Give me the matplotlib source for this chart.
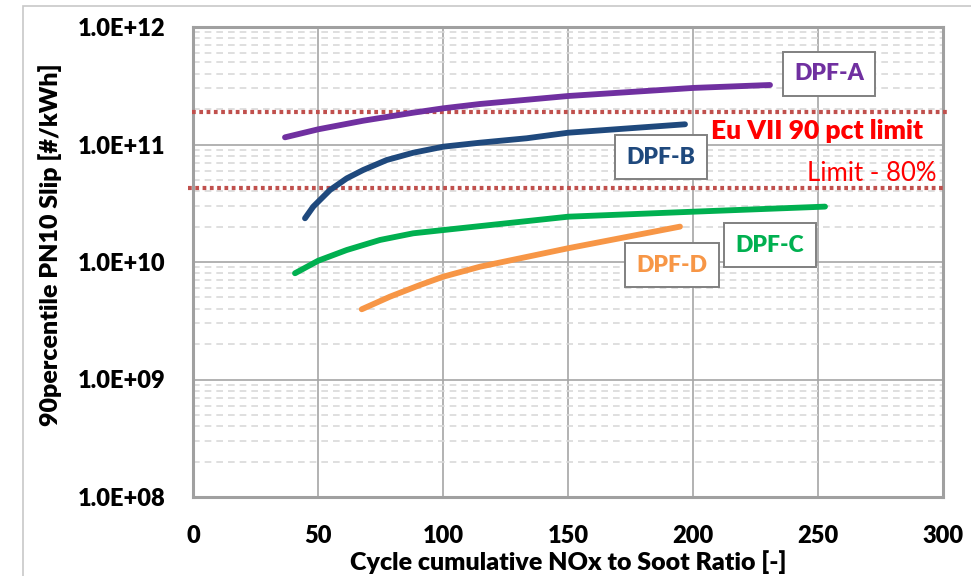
import matplotlib
matplotlib.use("Agg")
import matplotlib.pyplot as plt
from matplotlib.patches import Rectangle
from matplotlib.ticker import LogLocator, FixedLocator, NullFormatter

# --- data ---------------------------------------------------------------
dpf_a_x = [36.8, 50.1, 68.1, 88.1, 100.1, 114.8, 150.1, 200.1, 230.8]
dpf_a_y = [1.151e11, 1.347e11, 1.594e11, 1.865e11, 2.032e11, 2.212e11,
           2.587e11, 3.03e11, 3.21e11]

dpf_b_x = [44.8, 48.1, 54.8, 61.5, 68.1, 77.5, 88.1, 100.1, 114.8, 133.5,
           150.1, 196.8]
dpf_b_y = [2.355e10, 2.96e10, 4.10e10, 5.15e10, 6.07e10, 7.38e10, 8.51e10,
           9.58e10, 1.036e11, 1.13e11, 1.26e11, 1.486e11]

dpf_c_x = [40.8, 50.1, 61.5, 74.8, 88.1, 100.1, 114.8, 150.1, 200.1, 252.8]
dpf_c_y = [8.02e9, 1.026e10, 1.265e10, 1.54e10, 1.755e10, 1.87e10, 2.02e10,
           2.43e10, 2.68e10, 2.96e10]

dpf_d_x = [67.5, 78.8, 90.8, 100.1, 114.8, 150.1, 194.8]
dpf_d_y = [3.96e9, 5.07e9, 6.37e9, 7.5e9, 9.12e9, 1.31e10, 2.0e10]

eu7_limit = 1.90e11
limit_80 = 4.24e10

x_ticks = [0, 50, 100, 150, 200, 250, 300]
y_ticks = [1e8, 1e9, 1e10, 1e11, 1e12]
y_tick_labels = ["1.0E+08", "1.0E+09", "1.0E+10", "1.0E+11", "1.0E+12"]

series_names = ["DPF-A", "DPF-B", "DPF-C", "DPF-D"]
series_colors = ["#7030A0", "#1F497D", "#00B050", "#F79646"]

# --- figure -------------------------------------------------------------
W, H = 971, 576
fig = plt.figure(figsize=(W / 100, H / 100), dpi=100)
fig.patch.set_facecolor("white")

# outer chart-area border
fig.add_artist(Rectangle((23 / W, -0.1), 1.2, 1 - 6 / H + 0.1,
                         transform=fig.transFigure, fill=False,
                         edgecolor="#C8C8C8", linewidth=1.2, zorder=0))

L, R, T, B = 193, 943, 27, 497
ax = fig.add_axes([L / W, 1 - B / H, (R - L) / W, (B - T) / H])

FONT = "Lato"
BOLD = "heavy"

ax.set_yscale("log")
ax.set_xlim(0, 300)
ax.set_ylim(1e8, 1e12)

# grid
ax.xaxis.set_major_locator(FixedLocator(x_ticks))
ax.yaxis.set_major_locator(FixedLocator(y_ticks))
ax.yaxis.set_minor_locator(LogLocator(base=10, subs=range(2, 10), numticks=20))
ax.yaxis.set_minor_formatter(NullFormatter())
ax.grid(which="major", axis="both", color="#A6A6A6", linewidth=1.2, zorder=0)
ax.grid(which="minor", axis="y", color="#D9D9D9", linewidth=1.2,
        linestyle=(0, (4, 3)), zorder=0)
ax.tick_params(which="both", length=0)
ax.tick_params(axis="y", pad=20)
ax.tick_params(axis="x", pad=20)

ax.set_xticklabels([str(v) for v in x_ticks], fontsize=17,
                   fontweight=BOLD, family=FONT)
ax.set_yticklabels(y_tick_labels, fontsize=17, fontweight=BOLD, family=FONT)

for sp in ax.spines.values():
    sp.set_color("#A0A0A0")
    sp.set_linewidth(2.2)

# limit lines (extend slightly outside the plot frame)
for val, x0, x1 in [(eu7_limit, -0.3, 302), (limit_80, -2.0, 301)]:
    ax.plot([x0, x1], [val, val], color="#C0504D", linewidth=3.0,
            linestyle=(0, (0.9, 0.85)), dash_capstyle="butt",
            clip_on=False, zorder=3)

# series
xs = [dpf_a_x, dpf_b_x, dpf_c_x, dpf_d_x]
ys = [dpf_a_y, dpf_b_y, dpf_c_y, dpf_d_y]
for x, y, c in zip(xs, ys, series_colors):
    ax.plot(x, y, color=c, linewidth=4.2, solid_capstyle="round",
            solid_joinstyle="round", zorder=4)

# series labels (boxes)
label_pos = [(829, 74), (661, 157), (770, 245), (672, 265)]
box_style = dict(boxstyle="square,pad=0.5", facecolor="white",
                 edgecolor="#808080", linewidth=1.4)
for name, c, (px, py) in zip(series_names, series_colors, label_pos):
    fig.text(px / W, 1 - py / H, name, color=c, fontsize=16.5,
             fontweight=BOLD, family=FONT, ha="center", va="center",
             bbox=box_style, zorder=6)

fig.text(817 / W, 1 - 131 / H, "Eu VII 90 pct limit", color="#FF0000",
         fontsize=19, fontweight=BOLD, family=FONT, ha="center", va="center")
fig.text(872 / W, 1 - 174 / H, "Limit - 80%", color="#FF0000",
         fontsize=18.5, family=FONT, ha="center", va="center")

# axis titles
fig.text(568 / W, 1 - 562 / H, "Cycle cumulative NOx to Soot Ratio [-]",
         fontsize=18, fontweight=BOLD, family=FONT, ha="center", va="center")
fig.text(50 / W, 1 - 245 / H, "90percentile PN10 Slip [#/kWh]",
         fontsize=18, fontweight=BOLD, family=FONT, ha="center",
         va="center", rotation=90)

fig.savefig("out.png", dpi=100, facecolor="white")
